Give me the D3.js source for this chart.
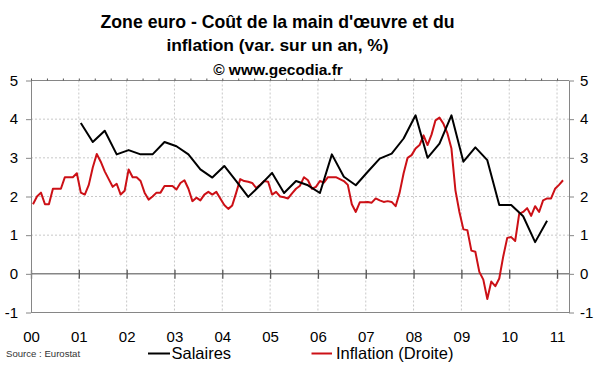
<!DOCTYPE html>
<html>
<head>
<meta charset="utf-8">
<script src="https://cdn.jsdelivr.net/npm/d3@7"></script>
<style>
  body { margin: 0; background: #fff; }
  text { font-family: Arial, "Liberation Sans", sans-serif; }
</style>
</head>
<body>
<div class="chart"></div>
<script>
// year labels on the bottom axis (00 .. 11)
var years = d3.range(2000, 2012);
var yTicks = [-1, 0, 1, 2, 3, 4, 5];

// Salaires, quarterly, 2001 T1 -> 2010 T4
var salaires = [3.90, 3.41, 3.70, 3.09, 3.20, 3.09, 3.09, 3.41, 3.30, 3.09,
                2.70, 2.49, 2.79, 2.40, 1.99, 2.29, 2.61, 2.09, 2.40, 2.29,
                2.09, 3.09, 2.51, 2.29, 2.64, 2.98, 3.11, 3.50, 4.10, 3.00,
                3.37, 4.10, 2.90, 3.27, 2.94, 1.78, 1.78, 1.49, 0.82, 1.37];
var salairesStart = 2001;

// Inflation, monthly, jan 2000 -> feb 2011 (right axis)
var inflation = [1.8, 2.0, 2.1, 1.8, 1.8, 2.2, 2.2, 2.2, 2.5, 2.5, 2.5, 2.6,
                 2.1, 2.05, 2.3, 2.75, 3.1, 2.9, 2.65, 2.45, 2.25, 2.33, 2.05, 2.15,
                 2.7, 2.5, 2.5, 2.4, 2.1, 1.92, 2.0, 2.1, 2.1, 2.27, 2.27, 2.27,
                 2.18, 2.35, 2.42, 2.2, 1.88, 1.97, 1.9, 2.05, 2.12, 2.05, 2.12, 1.95,
                 1.78, 1.68, 1.77, 2.1, 2.45, 2.4, 2.38, 2.35, 2.22, 2.3, 2.4, 2.38,
                 2.05, 2.12, 2.0, 1.98, 1.95, 2.08, 2.2, 2.28, 2.5, 2.42, 2.2, 2.25,
                 2.4, 2.36, 2.5, 2.5, 2.5, 2.45, 2.4, 2.3, 1.8, 1.6, 1.85, 1.85,
                 1.86, 1.84, 1.95, 1.9, 1.86, 1.88, 1.86, 1.75, 2.1, 2.6, 3.0, 3.07,
                 3.24, 3.33, 3.58, 3.33, 3.6, 3.97, 4.04, 3.88, 3.63, 3.24, 2.16, 1.6,
                 1.15, 1.13, 0.6, 0.57, 0.05, -0.15, -0.65, -0.2, -0.32, -0.12, 0.45, 0.93,
                 0.95, 0.85, 1.55, 1.6, 1.7, 1.5, 1.75, 1.6, 1.9, 1.95, 1.95, 2.2,
                 2.3, 2.42];
var inflationStart = 2000;

var W = 600, H = 372;
var margin = {top: 80.5, right: 31, bottom: 59.5, left: 31};
var width = W - margin.left - margin.right,
    height = H - margin.top - margin.bottom;

var axisColor = "#868686";
var fontFam = "Arial, 'Liberation Sans', sans-serif";
// plain hyphen for negatives, like the original
var fmtInt = function(d) { return String(d); };

var svg = d3.select(".chart").append("svg")
    .attr("width", W)
    .attr("height", H);

// scales
var x = d3.scaleLinear().domain([2000, 2011.25]).range([0, width]);
var y = d3.scaleLinear().domain([-1, 5]).range([height, 0]);

// title
var title = svg.append("g")
    .attr("text-anchor", "middle")
    .attr("font-weight", "bold")
    .attr("fill", "#000");
title.append("text").attr("x", 277.5).attr("y", 28).attr("font-size", 17.7)
    .text("Zone euro - Coût de la main d'œuvre et du");
title.append("text").attr("x", 277.5).attr("y", 51).attr("font-size", 17.4)
    .text("inflation (var. sur un an, %)");
title.append("text").attr("x", 278).attr("y", 74.5).attr("font-size", 15.5)
    .text("© www.gecodia.fr");

var g = svg.append("g")
    .attr("transform", "translate(" + margin.left + "," + margin.top + ")");

// dotted grid
g.append("g").selectAll("line")
    .data(years.slice(1))
    .enter().append("line")
    .attr("x1", function(d) { return x(d); })
    .attr("x2", function(d) { return x(d); })
    .attr("y1", 0).attr("y2", height)
    .attr("stroke", "#c8c8c8")
    .attr("stroke-dasharray", "2,2");
g.append("g").selectAll("line")
    .data(yTicks.filter(function(d) { return d > 0 && d < 5; }))
    .enter().append("line")
    .attr("x1", 0).attr("x2", width)
    .attr("y1", function(d) { return y(d); })
    .attr("y2", function(d) { return y(d); })
    .attr("stroke", "#c8c8c8")
    .attr("stroke-dasharray", "2,2");

// frame top / bottom
g.append("line").attr("x1", 0).attr("x2", width).attr("y1", 0).attr("y2", 0)
    .attr("stroke", axisColor);
g.append("line").attr("x1", 0).attr("x2", width).attr("y1", height).attr("y2", height)
    .attr("stroke", axisColor);

// small ticks on the top border
g.append("g")
    .call(d3.axisTop(x)
        .tickValues(d3.range(0, 34).map(function(i) { return 2000 + i / 3; }))
        .tickSize(2).tickSizeOuter(0).tickFormat(""))
    .call(function(s) { s.select(".domain").remove(); })
    .selectAll("line").attr("stroke", "#555");

// zero line with year ticks across it
g.append("line").attr("x1", 0).attr("x2", width)
    .attr("y1", y(0)).attr("y2", y(0))
    .attr("stroke", axisColor).attr("stroke-width", 1.5);
g.append("g")
    .attr("transform", "translate(0," + (y(0) - 4) + ")")
    .call(d3.axisBottom(x).tickValues(years).tickSize(9).tickFormat(""))
    .call(function(s) { s.select(".domain").remove(); })
    .selectAll("line").attr("stroke", "#555").attr("stroke-width", 1.3);

// year labels below the plot
g.append("g")
    .attr("transform", "translate(0," + height + ")")
    .attr("font-family", fontFam)
    .call(d3.axisBottom(x).tickValues(years).tickSize(0).tickPadding(18.4)
        .tickFormat(function(d) { return d3.format("02d")(d % 100); }))
    .call(function(s) { s.select(".domain").remove(); })
    .selectAll("text").attr("font-size", 15).attr("fill", "#000");

// left axis
g.append("g")
    .call(d3.axisLeft(y).tickValues(yTicks).tickFormat(fmtInt)
        .tickSize(5).tickSizeOuter(0).tickPadding(8))
    .attr("font-family", fontFam)
    .call(function(s) {
        s.select(".domain").attr("stroke", axisColor);
        s.selectAll("line").attr("stroke", axisColor);
        s.selectAll("text").attr("font-size", 15).attr("fill", "#000");
    });

// right axis
g.append("g")
    .attr("transform", "translate(" + width + ",0)")
    .call(d3.axisRight(y).tickValues(yTicks).tickFormat(fmtInt)
        .tickSize(5).tickSizeOuter(0).tickPadding(6))
    .attr("font-family", fontFam)
    .call(function(s) {
        s.select(".domain").attr("stroke", axisColor);
        s.selectAll("line").attr("stroke", axisColor);
        s.selectAll("text").attr("font-size", 15).attr("fill", "#000");
    });

// lines (points sit in the middle of the first month of each period)
var lineSal = d3.line()
    .x(function(d, i) { return x(salairesStart + i / 4 + 1 / 24); })
    .y(function(d) { return y(d); });
var lineInf = d3.line()
    .x(function(d, i) { return x(inflationStart + i / 12 + 1 / 24); })
    .y(function(d) { return y(d); });

g.append("path")
    .datum(inflation)
    .attr("fill", "none")
    .attr("stroke", "#cc1016")
    .attr("stroke-width", 2)
    .attr("stroke-linejoin", "round")
    .attr("d", lineInf);

g.append("path")
    .datum(salaires)
    .attr("fill", "none")
    .attr("stroke", "#000")
    .attr("stroke-width", 2)
    .attr("stroke-linejoin", "round")
    .attr("d", lineSal);

// legend
var legend = svg.append("g");
legend.append("line").attr("x1", 148).attr("x2", 170).attr("y1", 353.5).attr("y2", 353.5)
    .attr("stroke", "#000").attr("stroke-width", 2);
legend.append("text").attr("x", 171.5).attr("y", 359).attr("font-size", 16.5)
    .text("Salaires");
legend.append("line").attr("x1", 311.5).attr("x2", 332).attr("y1", 353.5).attr("y2", 353.5)
    .attr("stroke", "#cc1016").attr("stroke-width", 2);
legend.append("text").attr("x", 336).attr("y", 359).attr("font-size", 16.5)
    .text("Inflation (Droite)");

// source
svg.append("text").attr("x", 6).attr("y", 357).attr("font-size", 9.6).attr("fill", "#333")
    .text("Source : Eurostat");
</script>
</body>
</html>
